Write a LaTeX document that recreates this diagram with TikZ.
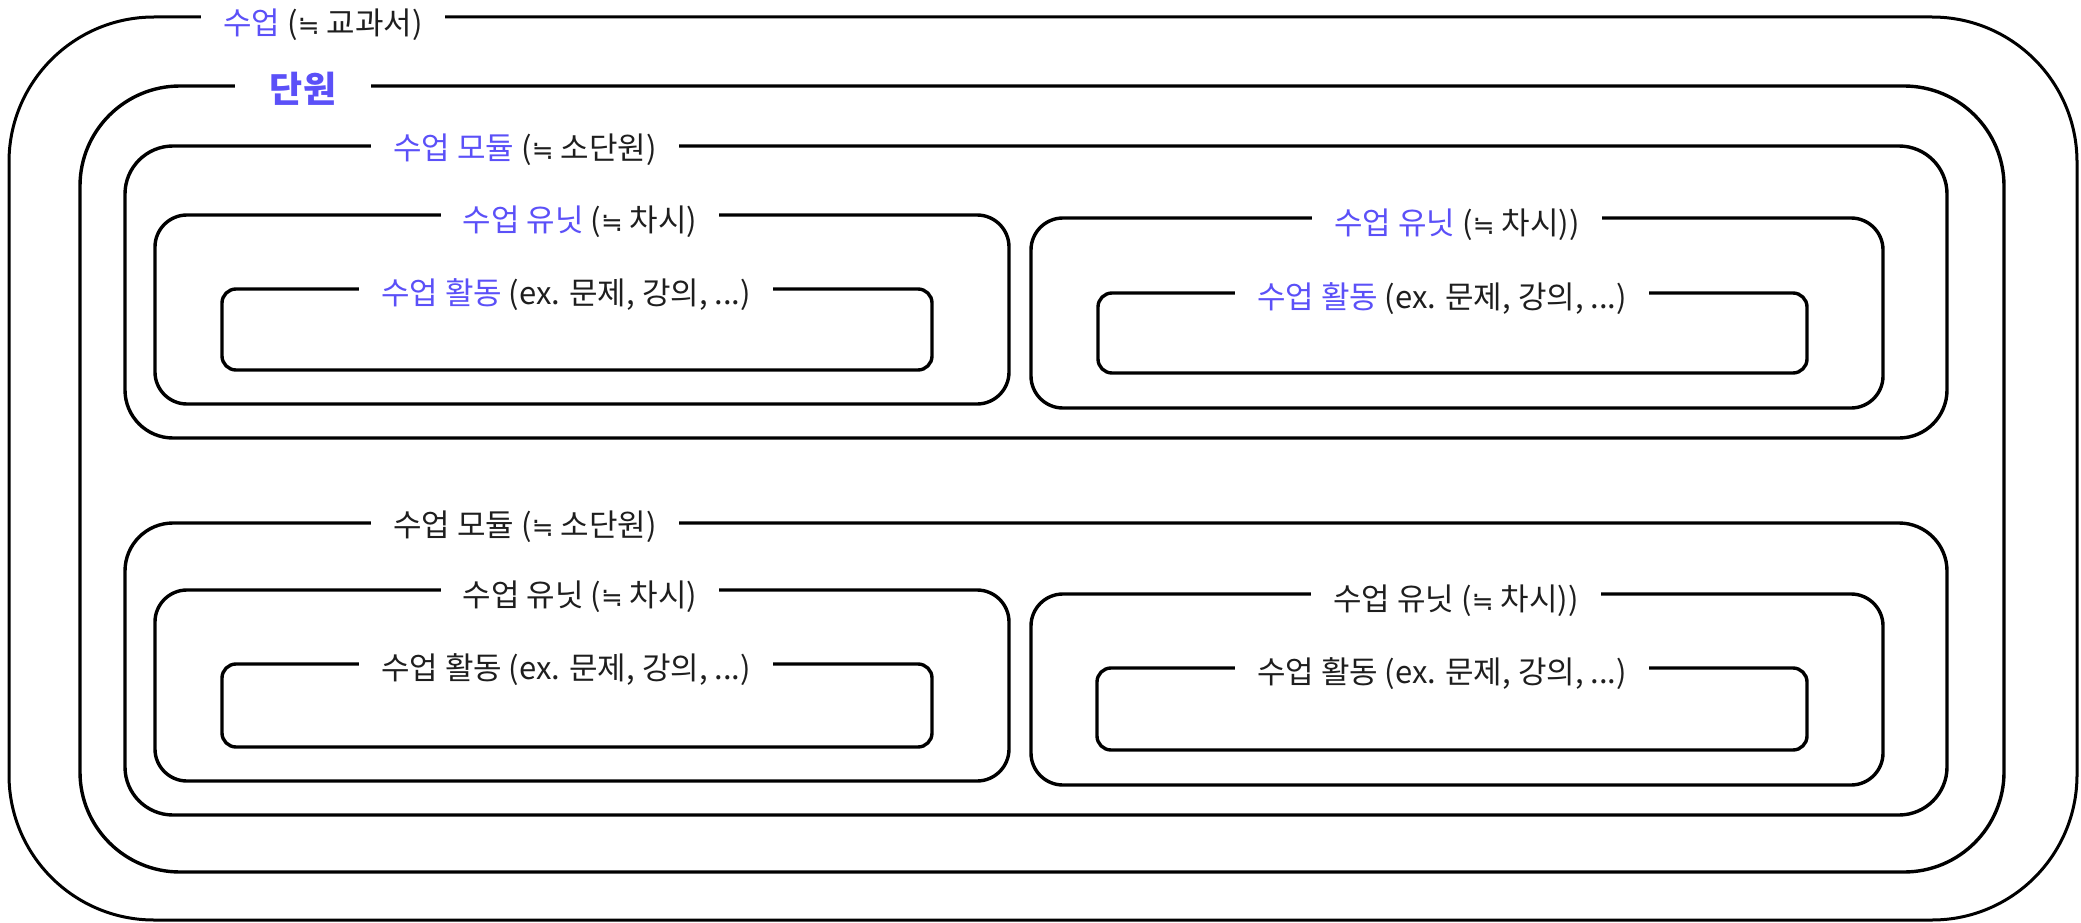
\documentclass[tikz,border=0pt]{standalone}
\usepackage{fontspec}
\setmainfont{Noto Sans CJK KR}
\newfontfamily\symfont{DejaVu Sans}
\usetikzlibrary{fit}
\definecolor{accent}{HTML}{5B50F8}
\definecolor{ink}{HTML}{1E1E1E}
\tikzset{
  box/.style={draw=black, line width=3.4pt, rounded corners=#1, inner sep=0pt},
  box/.default=30pt,
  lab/.style={fill=white, text=ink, inner xsep=22pt, inner ysep=2pt, font=\fontsize{31}{35}\selectfont},
}
\newcommand\hl[1]{{\color{accent}#1}}
\newcommand\aeq{{\symfont\fontsize{26}{30}\selectfont ≒}}
\begin{document}
\begin{tikzpicture}[x=1pt,y=-1pt]
\useasboundingbox[fill=white] (0,0) rectangle (2081,923);
% boxes
\node[box=145pt, line width=3pt, fit={(9,17) (2077,920)}] (textbook) {};
\node[box=100pt, fit={(80,86) (2004,872)}] (unit) {};
\node[box=48pt, fit={(125,146) (1947,438)}] (mod1) {};
\node[box=32pt, fit={(155,215) (1009,404)}] (u11) {};
\node[box=14pt, fit={(222,289) (932,370)}] (a11) {};
\node[box=32pt, fit={(1031,218) (1883,408)}] (u12) {};
\node[box=14pt, fit={(1098,293) (1807,373)}] (a12) {};
\node[box=48pt, fit={(125,523) (1947,815)}] (mod2) {};
\node[box=32pt, fit={(155,590) (1009,781)}] (u21) {};
\node[box=14pt, fit={(222,664) (932,747)}] (a21) {};
\node[box=32pt, fit={(1031,594) (1883,785)}] (u22) {};
\node[box=14pt, fit={(1097,668) (1807,750)}] (a22) {};
% labels
\node[lab] (l-textbook) at (323,25) {\hl{수업} (\aeq{} 교과서)};
\node[lab, inner xsep=35pt, font=\fontsize{36}{40}\selectfont\bfseries, text=accent] (l-unit) at (303,89) {단원};
\node[lab] (l-mod1) at (525,150) {\hl{수업 모듈} (\aeq{} 소단원)};
\node[lab] (l-u11) at (580,222) {\hl{수업 유닛} (\aeq{} 차시)};
\node[lab] (l-a11) at (566,295) {\hl{수업 활동} (ex. 문제, 강의, ...)};
\node[lab] (l-u12) at (1457,225) {\hl{수업 유닛} (\aeq{} 차시))};
\node[lab] (l-a12) at (1442,299) {\hl{수업 활동} (ex. 문제, 강의, ...)};
\node[lab] (l-mod2) at (525,527) {수업 모듈 (\aeq{} 소단원)};
\node[lab] (l-u21) at (580,597) {수업 유닛 (\aeq{} 차시)};
\node[lab] (l-a21) at (566,670) {수업 활동 (ex. 문제, 강의, ...)};
\node[lab] (l-u22) at (1456,601) {수업 유닛 (\aeq{} 차시))};
\node[lab] (l-a22) at (1442,674) {수업 활동 (ex. 문제, 강의, ...)};
\end{tikzpicture}
\end{document}
